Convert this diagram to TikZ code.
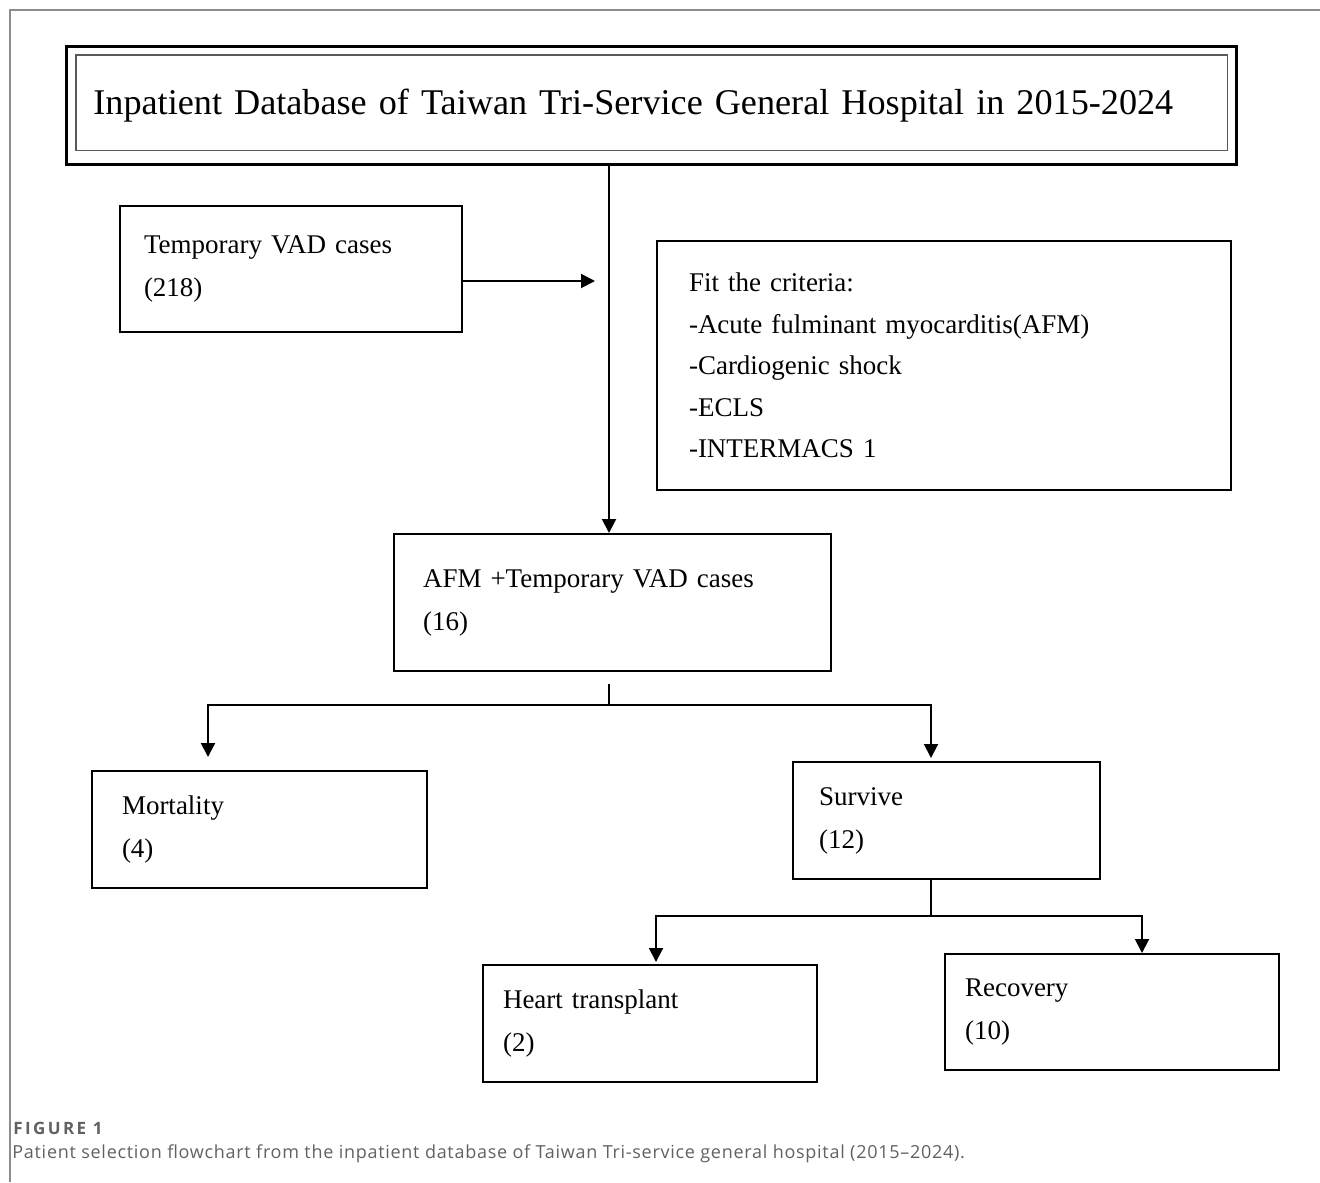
\documentclass[tikz,border=0pt]{standalone}
\usepackage{fontspec}
\setmainfont{Liberation Serif}
\newfontfamily\capfont[LetterSpace=4]{Open Sans}
\newfontfamily\capnofont[LetterSpace=14]{Open Sans}
\usetikzlibrary{arrows.meta}

\begin{document}
\begin{tikzpicture}[x=0.5pt, y=-0.5pt]
        \tikzset{box/.style={draw, line width=1pt, inner sep=0pt, anchor=north west, align=left, font=\fontsize{13.5}{21.5}\selectfont}}
        \tikzset{myarrow/.style={-{Triangle[width=7pt,length=7pt]}, line width=1pt}}
        \tikzset{myline/.style={line width=1pt}}
        \tikzset{caption/.style={anchor=base west, inner sep=0pt, text=black!62}}
        \useasboundingbox (0,0) rectangle (1320,1182);
        % figure frame
        \draw[black!45, line width=0.6pt] (1320,10) -- (10,10) -- (10,1182);
        % top level
        \node[box, line width=1.4pt, minimum width=585pt, minimum height=59pt, text width=558pt, font=\fontsize{18.1}{20}\selectfont] (db) at (65,45) {Inpatient Database of Taiwan Tri-Service General Hospital in 2015-2024};
        \draw[black!65, line width=0.6pt] ([shift={(11,10)}]db.north west) rectangle ([shift={(-10,-15)}]db.south east);
        \node[box, minimum width=171pt, minimum height=63pt, text width=147pt] (vad) at (119,205) {Temporary VAD cases\\(218)};
        \node[box, minimum width=287pt, minimum height=124.5pt, text width=255pt, font=\fontsize{13.5}{20.75}\selectfont] (crit) at (656,240) {Fit the criteria:\\-Acute fulminant myocarditis(AFM)\\-Cardiogenic shock\\-ECLS\\-INTERMACS 1};
        \node[box, minimum width=218.5pt, minimum height=68.5pt, text width=189.5pt] (afm) at (393,533) {AFM +Temporary VAD cases\\(16)};
        % outcomes
        \node[box, minimum width=167.5pt, minimum height=58.5pt, text width=137.5pt] (mort) at (91,770) {Mortality\\(4)};
        \node[box, minimum width=153.5pt, minimum height=58.5pt, text width=127.5pt] (surv) at (792,761) {Survive\\(12)};
        \node[box, minimum width=167pt, minimum height=58.5pt, text width=147pt] (heart) at (482,964) {Heart transplant\\(2)};
        \node[box, minimum width=167pt, minimum height=58pt, text width=147pt] (recov) at (944,953) {Recovery\\(10)};
        % connectors
        \coordinate (trunk) at (609,163);
        \coordinate (vadend) at (595,281);
        \draw[myarrow] (db.south -| trunk) -- (afm.north -| trunk);
        \draw[myarrow] (vad.east |- vadend) -- (vadend);
        \coordinate (split1) at (609,705);
        \coordinate (mtip) at (208,757);
        \coordinate (stip) at (931,758);
        \draw[myline] (afm.south -| split1) ++(0,12) -- (split1);
        \draw[myarrow] (split1) -| (mtip);
        \draw[myarrow] (split1) -| (stip);
        \coordinate (split2) at (931,916);
        \coordinate (htip) at (656,962);
        \coordinate (rtip) at (1142,953);
        \draw[myline] (surv.south -| split2) -- (split2);
        \draw[myarrow] (split2) -| (htip);
        \draw[myarrow] (split2) -| (rtip);
        % caption
        \node[caption, font=\capnofont\bfseries\fontsize{8.5}{9}\selectfont] (figno) at (13,1134) {FIGURE 1};
        \node[caption, font=\capfont\fontsize{9}{11}\selectfont] (figtext) at (12,1158) {Patient selection flowchart from the inpatient database of Taiwan Tri-service general hospital (2015–2024).};
\end{tikzpicture}
\end{document}
